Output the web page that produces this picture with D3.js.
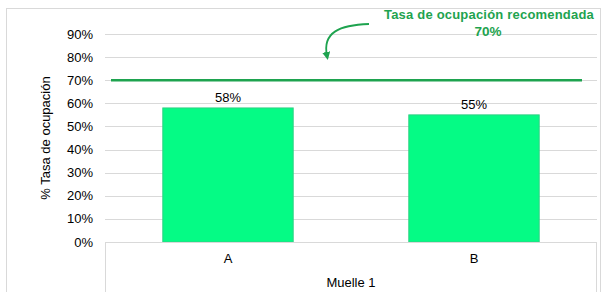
<!DOCTYPE html>
<html lang="es">
<head>
<meta charset="utf-8">
<title>Tasa de ocupación</title>
<script src="https://cdn.jsdelivr.net/npm/d3@7"></script>
<style>
  body { margin: 0; background: #fff; font-family: "Liberation Sans", Arial, sans-serif; }
  text { fill: #000; }
</style>
</head>
<body>
<div id="chart"></div>
<script>
var categories = ["A", "B"];
var values = [0.58, 0.55];
var groupLabel = "Muelle 1";
var yTicks = [0, 0.1, 0.2, 0.3, 0.4, 0.5, 0.6, 0.7, 0.8, 0.9];
var target = 0.70;

var W = 603, H = 292;
var plotLeft = 105, plotRight = 597, plotTop = 34, plotBottom = 242;

var svg = d3.select("#chart").append("svg")
    .attr("width", W)
    .attr("height", H);

// outer frame
svg.append("rect")
    .attr("x", 6.5).attr("y", 8.5)
    .attr("width", W - 9).attr("height", H)
    .style("fill", "none")
    .style("stroke", "#d9d9d9");

var y = d3.scaleLinear().domain([0, 0.9]).range([plotBottom, plotTop]);
var x = d3.scaleBand().domain(categories).range([plotLeft, plotRight]).paddingInner(0.47).paddingOuter(0.235);

// gridlines
svg.append("g").selectAll("line")
    .data(yTicks.slice(1))
    .enter().append("line")
    .attr("x1", plotLeft).attr("x2", plotRight)
    .attr("y1", function(d){ return Math.round(y(d)) + 0.5; })
    .attr("y2", function(d){ return Math.round(y(d)) + 0.5; })
    .style("stroke", "#d9d9d9")
    .style("stroke-width", 1);

// y tick labels
svg.append("g").selectAll("text")
    .data(yTicks)
    .enter().append("text")
    .attr("x", 93)
    .attr("y", function(d){ return y(d); })
    .attr("dy", "0.35em")
    .attr("text-anchor", "end")
    .style("font-size", "13px")
    .text(d3.format(".0%"));

// y axis title
svg.append("text")
    .attr("transform", "translate(50," + ((plotTop + plotBottom) / 2) + ") rotate(-90)")
    .attr("text-anchor", "middle")
    .style("font-size", "13px")
    .text("% Tasa de ocupación");

// bars
svg.append("g").selectAll("rect")
    .data(values)
    .enter().append("rect")
    .attr("x", function(d, i){ return x(categories[i]); })
    .attr("width", x.bandwidth())
    .attr("y", function(d){ return y(d); })
    .attr("height", function(d){ return plotBottom - y(d); })
    .style("fill", "#05fb85")
    .style("stroke", "#2fd184")
    .style("stroke-width", 1);

// bar labels
svg.append("g").selectAll("text")
    .data(values)
    .enter().append("text")
    .attr("x", function(d, i){ return x(categories[i]) + x.bandwidth() / 2; })
    .attr("y", function(d){ return y(d) - 6; })
    .attr("text-anchor", "middle")
    .style("font-size", "13px")
    .text(d3.format(".0%"));

// category axis (multi-level)
var axisG = svg.append("g").style("stroke", "#d9d9d9").style("stroke-width", 1);
axisG.append("line").attr("x1", plotLeft).attr("x2", plotRight).attr("y1", plotBottom + 0.5).attr("y2", plotBottom + 0.5);
axisG.append("line").attr("x1", plotLeft + 0.5).attr("x2", plotLeft + 0.5).attr("y1", plotBottom).attr("y2", H);
axisG.append("line").attr("x1", plotRight - 0.5).attr("x2", plotRight - 0.5).attr("y1", plotBottom).attr("y2", H);

svg.append("g").selectAll("text")
    .data(categories)
    .enter().append("text")
    .attr("x", function(d){ return x(d) + x.bandwidth() / 2; })
    .attr("y", 263)
    .attr("text-anchor", "middle")
    .style("font-size", "13px")
    .text(function(d){ return d; });

svg.append("text")
    .attr("x", (plotLeft + plotRight) / 2)
    .attr("y", 287)
    .attr("text-anchor", "middle")
    .style("font-size", "13px")
    .text(groupLabel);

// target line
var green = "#1ea34f";
svg.append("line")
    .attr("x1", 111).attr("x2", 582)
    .attr("y1", y(target)).attr("y2", y(target))
    .style("stroke", green)
    .style("stroke-width", 2.5);

// annotation
svg.append("text")
    .attr("x", 489).attr("y", 19)
    .attr("text-anchor", "middle")
    .style("font-size", "13px")
    .style("letter-spacing", "0.2px")
    .style("font-weight", "bold")
    .style("fill", green)
    .text("Tasa de ocupación recomendada");
svg.append("text")
    .attr("x", 488).attr("y", 36)
    .attr("text-anchor", "middle")
    .style("font-size", "13.5px")
    .style("font-weight", "bold")
    .style("fill", green)
    .text(d3.format(".0%")(target));

svg.append("defs").append("marker")
    .attr("id", "arrow")
    .attr("viewBox", "0 0 10 10")
    .attr("refX", 5).attr("refY", 5)
    .attr("markerWidth", 4.5).attr("markerHeight", 4.5)
    .attr("orient", "auto")
    .append("path")
    .attr("d", "M0,0 L10,5 L0,10 z")
    .style("fill", green);

svg.append("path")
    .attr("d", "M369,24 C340,25 322,32 327,56")
    .style("fill", "none")
    .style("stroke", green)
    .style("stroke-width", 1.8)
    .attr("marker-end", "url(#arrow)");
</script>
</body>
</html>
